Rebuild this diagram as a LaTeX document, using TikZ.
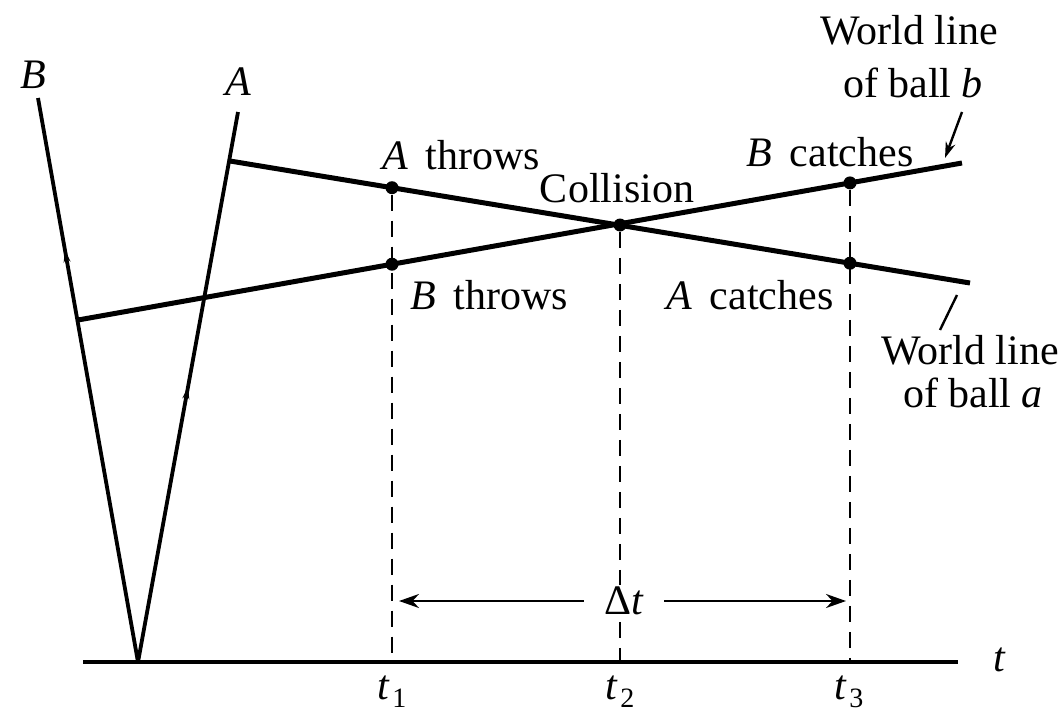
\documentclass[tikz,border=0pt]{standalone}
\usepackage{fontspec}
\setmainfont{Liberation Serif}
\usetikzlibrary{arrows.meta,decorations.markings}
\newcommand{\tsub}[1]{\textit{t}\kern1pt\lower4pt\hbox{\fontsize{14}{14}\selectfont #1}}
\begin{document}
\begin{tikzpicture}[x=0.5pt,y=-0.5pt,
  lab/.style={font=\fontsize{21}{24}\selectfont, inner sep=1pt},
  wl/.style={line width=1.9pt},
  ball/.style={line width=2.5pt},
  drop/.style={line width=1pt, dash pattern=on 8pt off 5pt},
  ev/.style={circle, fill=black, inner sep=0pt, minimum size=6.5pt},
  ptr/.style={line width=1.2pt},
  uptick/.style={postaction={decorate}, decoration={markings, mark=at position #1 with {\arrow{Stealth[length=6pt,width=3.5pt]}}}}
]
\useasboundingbox (0,0) rectangle (1060,712);
% axis
\coordinate (ax0) at (83,662);
\coordinate (ax1) at (958,662);
\coordinate (O) at (138,662);
\draw[line width=2.4pt] (ax0) -- (ax1);
\node[lab] (tl) at (1000,660) {\textit{t}};
% observer world lines
\coordinate (Btop) at (38,98);
\coordinate (Atop) at (238,112);
\draw[wl, uptick=0.73] (O) -- (Btop);
\draw[wl, uptick=0.5] (O) -- (Atop);
\node[lab] (Blab) at (33,75) {\textit{B}};
\node[lab] (Alab) at (238,82) {\textit{A}};
% ball world lines
\coordinate (a0) at (230,161);
\coordinate (a1) at (970,283);
\coordinate (b0) at (78,320);
\coordinate (b1) at (962,163);
\draw[ball] (a0) -- (a1);
\draw[ball] (b0) -- (b1);
% events
\node[ev] (Ath) at (392,187.7) {};
\node[ev] (Bth) at (392,264.2) {};
\node[ev] (Col) at (620,225) {};
\node[ev] (Bca) at (850,182.9) {};
\node[ev] (Aca) at (850,263.2) {};
% drop lines
\coordinate (t1) at (392,662);
\coordinate (t2) at (620,662);
\coordinate (t3) at (850,662);
\draw[drop] (Ath) -- (t1);
\draw[drop] (Col) -- (t2);
\draw[drop] (Bca) -- (t3);
\node[lab] (t1l) at (392,692) {\tsub{1}};
\node[lab] (t2l) at (620,692) {\tsub{2}};
\node[lab] (t3l) at (849,692) {\tsub{3}};
% delta t
\coordinate (dl) at (399,601);
\coordinate (dr) at (846,601);
\node[lab, inner xsep=10pt, fill=white] (dt) at (624,601) {Δ\textit{t}};
\draw[line width=1.2pt, -{Stealth[length=10pt,width=7pt]}] (dt) -- (dl);
\draw[line width=1.2pt, -{Stealth[length=10pt,width=7pt]}] (dt) -- (dr);
% event labels
\node[lab] (lAth) at (461,155) {\textit{A}\, throws};
\node[lab] (lCol) at (617,188) {Collision};
\node[lab] (lBth) at (489,295) {\textit{B}\, throws};
\node[lab] (lAca) at (750,295) {\textit{A}\, catches};
\node[lab] (lBca) at (830,152) {\textit{B}\, catches};
% world line annotations
\node[lab] (wb1) at (909,30) {World line};
\node[lab] (wb2) at (913,83) {of ball \textit{b}};
\node[lab] (wa1) at (970,350) {World line};
\node[lab] (wa2) at (973,393) {of ball \textit{a}};
\coordinate (pb0) at (962,112);
\coordinate (pb1) at (945,158);
\draw[ptr, -{Stealth[length=8pt,width=5pt]}] (pb0) -- (pb1);
\coordinate (pa0) at (957,295);
\coordinate (pa1) at (940,330);
\draw[ptr] (pa0) -- (pa1);
\end{tikzpicture}
\end{document}
